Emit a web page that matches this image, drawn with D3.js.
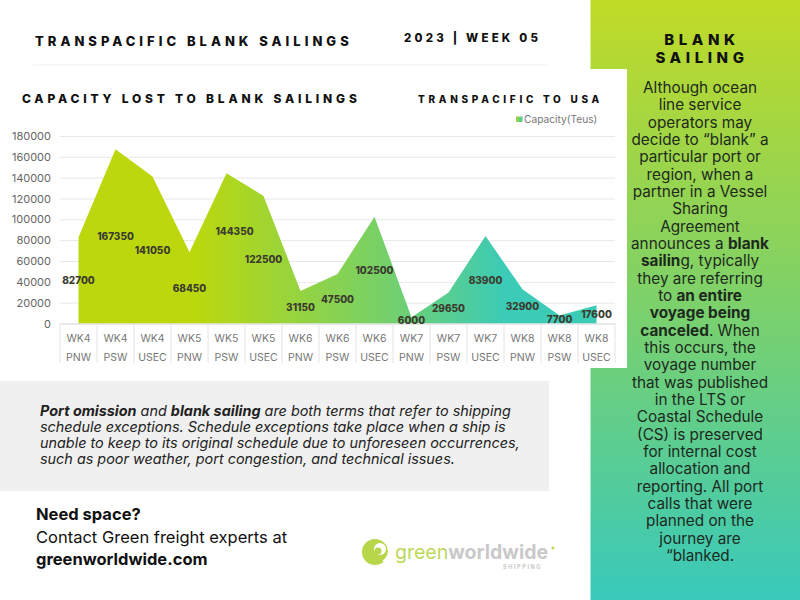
<!DOCTYPE html>
<html>
<head>
<meta charset="utf-8">
<script src="https://cdn.jsdelivr.net/npm/d3@7"></script>
<style>
  html, body { margin: 0; padding: 0; background: #fff; }
  svg { display: block; font-family: Inter, "Noto Sans", sans-serif; }
</style>
</head>
<body>
<svg id="chart" width="800" height="600"></svg>
<script>
// Chart values.
const weeks = ["WK4","WK4","WK4","WK5","WK5","WK5","WK6","WK6","WK6","WK7","WK7","WK7","WK8","WK8","WK8"];
const ports = ["PNW","PSW","USEC","PNW","PSW","USEC","PNW","PSW","USEC","PNW","PSW","USEC","PNW","PSW","USEC"];
const capacity = [82700,167350,141050,68450,144350,122500,31150,47500,102500,6000,29650,83900,32900,7700,17600];
const yTicks = [0,20000,40000,60000,80000,100000,120000,140000,160000,180000];

// Page text, ** marks the bold parts.
const sideLines = ["Although ocean","line service","operators may","decide to “blank” a","particular port or","region, when a","partner in a Vessel","Sharing","Agreement","announces a **blank**","**sailin**g, typically","they are referring","to **an entire**","**voyage being**","**canceled**. When","this occurs, the","voyage number","that was published","in the LTS or","Coastal Schedule","(CS) is preserved","for internal cost","allocation and","reporting. All port","calls that were","planned on the","journey are","“blanked."];
const noteLines = ["**Port omission** and **blank sailing** are both terms that refer to shipping","schedule exceptions. Schedule exceptions take place when a ship is","unable to keep to its original schedule due to unforeseen occurrences,","such as poor weather, port congestion, and technical issues."];
const contactLines = ["**Need space?**","Contact Green freight experts at","**greenworldwide.com**"];

const svg = d3.select("#chart");
const defs = svg.append("defs");

// Gradients.
const addGradient = (id, attrs, stops) => {
    const g = defs.append("linearGradient").attr("id", id).attr("gradientUnits", "userSpaceOnUse");
    Object.entries(attrs).forEach(([k, v]) => g.attr(k, v));
    stops.forEach(([o, c]) => g.append("stop").attr("offset", o).attr("stop-color", c));
};
addGradient("panelFill", { x1: 0, y1: 0, x2: 0, y2: 600 }, [[0, "#c1da26"], [0.5, "#7dd16a"], [1, "#39c9bb"]]);
addGradient("areaFill", { x1: 78, y1: 0, x2: 597, y2: 0 }, [[0, "#bcd80c"], [0.22, "#bcd80c"], [0.6, "#74d06c"], [0.82, "#3ccbb6"], [1, "#3ccbb6"]]);
addGradient("swatchFill", { x1: 516, y1: 0, x2: 523, y2: 0 }, [[0, "#a5d62c"], [1, "#3ccbb6"]]);

// Side panel and the white card over it.
svg.append("rect").attr("x", 590.5).attr("y", 0).attr("width", 209.5).attr("height", 600).attr("fill", "url(#panelFill)");
svg.append("rect").attr("x", 0).attr("y", 69).attr("width", 627).attr("height", 299).attr("fill", "#fff");

// Writes a line of text with its ** parts in bold.
const richLine = ( parent, line, x, y, anchor, size, fill, style ) => {
    const text = parent.append("text").attr("x", x).attr("y", y).attr("text-anchor", anchor)
        .attr("font-size", size).attr("fill", fill).attr("font-style", style || "normal");
    line.split("**").forEach(( part, i ) => {
        if ( part ) text.append("tspan").attr("font-weight", i % 2 ? 700 : 400).text(part);
    });
    return text;
};

// Headings.
const heading = ( label, x, y, size, spacing, anchor ) => svg.append("text")
    .attr("x", x).attr("y", y).attr("font-size", size).attr("font-weight", 800)
    .attr("letter-spacing", spacing).attr("text-anchor", anchor || "start").attr("fill", "#111").text(label);
heading("TRANSPACIFIC BLANK SAILINGS", 35, 45.5, 13, 4);
heading("2023 | WEEK 05", 404, 42, 11.5, 3.2);
heading("CAPACITY LOST TO BLANK SAILINGS", 22, 103, 12, 3.8);
heading("TRANSPACIFIC TO USA", 418, 103, 10, 3.7);
svg.append("line").attr("x1", 33).attr("x2", 547).attr("y1", 65).attr("y2", 65).attr("stroke", "#efefef");

// Scales.
const x = d3.scaleBand().domain(d3.range(capacity.length)).range([60, 615]);
const y = d3.scaleLinear().domain([0, 180000]).range([323.5, 136]);
const cx = i => x(i) + x.bandwidth() / 2;

// Grid lines.
const grid = svg.append("g").attr("transform", "translate(60,0)")
    .call(d3.axisLeft(y).tickValues(yTicks).tickSize(-555).tickFormat(""));
grid.select(".domain").remove();
grid.selectAll("line").attr("stroke", "#e8e8e8");

// Area.
const area = d3.area().x(( d, i ) => cx(i)).y0(y(0)).y1(d => y(d));
svg.append("path").attr("d", area(capacity)).attr("fill", "url(#areaFill)");

// Y axis.
const yAxis = svg.append("g").attr("transform", "translate(60,0)")
    .call(d3.axisLeft(y).tickValues(yTicks).tickSize(0).tickPadding(9).tickFormat(d3.format("d")));
yAxis.select(".domain").remove();
yAxis.selectAll("text").attr("font-family", "Inter").attr("font-size", 11).attr("fill", "#666");

// X axis with two rows of labels and a cell border between them.
const xAxis = svg.append("g").attr("transform", "translate(0," + y(0) + ")")
    .call(d3.axisBottom(x).tickSize(0).tickPadding(11).tickFormat(i => weeks[i]));
xAxis.select(".domain").attr("stroke", "#e0e0e0");
xAxis.selectAll("text").attr("font-family", "Inter").attr("font-size", 10.5).attr("fill", "#777");
xAxis.selectAll("g.tick").append("text").attr("y", 37).attr("text-anchor", "middle")
    .attr("font-family", "Inter").attr("font-size", 10.5).attr("fill", "#777").text(i => ports[i]);
const edges = d3.range(capacity.length).map(i => x(i)).concat(x.range()[1]);
svg.append("g").selectAll("line").data(edges).join("line")
    .attr("x1", d => d).attr("x2", d => d).attr("y1", y(0)).attr("y2", 363).attr("stroke", "#e4e4e4");

// Data labels sit halfway up the area. One was moved by hand in the original.
const movedLabel = 144350;
svg.append("g").selectAll("text").data(capacity).join("text")
    .attr("x", ( d, i ) => cx(i) + ( d === movedLabel ? 8 : 0 ))
    .attr("y", d => y(d / 2) + 3.8 - ( d === movedLabel ? 17 : 0 ))
    .attr("text-anchor", "middle").attr("font-size", 10).attr("font-weight", 800)
    .attr("fill", "#3b3b2e").text(d => d);

// Legend.
svg.append("rect").attr("x", 516).attr("y", 116.5).attr("width", 6.5).attr("height", 5.5).attr("fill", "url(#swatchFill)");
svg.append("text").attr("x", 524).attr("y", 122.5).attr("font-size", 10.2).attr("fill", "#777").text("Capacity(Teus)");

// Side panel text.
heading("BLANK", 702, 44.5, 15, 4.6, "middle");
heading("SAILING", 702, 62.5, 15, 4.6, "middle");
sideLines.forEach(( line, i ) => richLine(svg, line, 700, 93 + i * 17.33, "middle", 15.3, "#1d2a1d"));

// Note box.
svg.append("rect").attr("x", 0).attr("y", 381).attr("width", 549).attr("height", 110).attr("fill", "#f0f0f0");
noteLines.forEach(( line, i ) => richLine(svg, line, 40, 415.5 + i * 16, "start", 14.4, "#222", "italic"));

// Contact lines.
contactLines.forEach(( line, i ) => richLine(svg, line, 36, [520, 542.5, 565][i], "start", 16.5, "#111"));

// Logo.
const logo = svg.append("g");
logo.append("circle").attr("cx", 375).attr("cy", 552).attr("r", 13).attr("fill", "#b7d64a");
logo.append("circle").attr("cx", 380).attr("cy", 549).attr("r", 6).attr("fill", "#fff");
logo.append("circle").attr("cx", 378).attr("cy", 551).attr("r", 3.5).attr("fill", "#b7d64a");
logo.append("path").attr("d", d3.arc()({ innerRadius: 11, outerRadius: 13, startAngle: 1.2, endAngle: 2.6 }))
    .attr("transform", "translate(377,551)").attr("fill", "#fff");
const logoText = logo.append("text").attr("x", 395).attr("y", 559).attr("font-size", 19.5);
logoText.append("tspan").attr("fill", "#bcd85a").text("green");
logoText.append("tspan").attr("fill", "#c9c9c9").attr("font-weight", 700).text("worldwide");
logo.append("circle").attr("cx", 553).attr("cy", 548).attr("r", 1.6).attr("fill", "#bcd85a");
logo.append("text").attr("x", 503).attr("y", 569).attr("font-size", 5.5).attr("font-weight", 700)
    .attr("letter-spacing", 1.6).attr("fill", "#c9c9c9").text("SHIPPING");
</script>
</body>
</html>
